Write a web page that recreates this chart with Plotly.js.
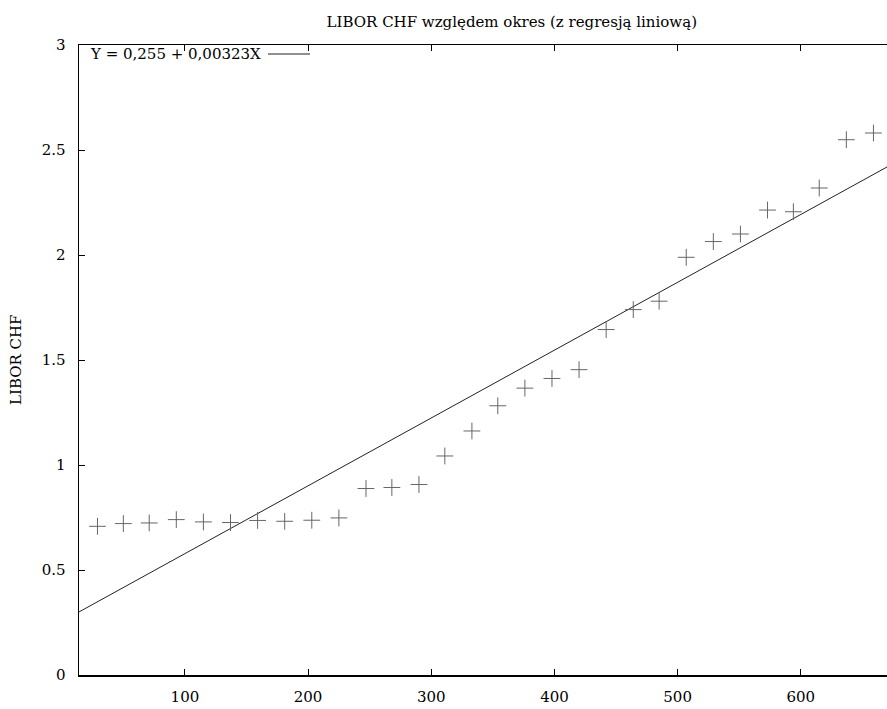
<!DOCTYPE html>
<html>
<head>
<meta charset="utf-8">
<script src="https://cdn.plot.ly/plotly-3.0.1.min.js"></script>
<style>
  html, body { margin: 0; padding: 0; background: #fff; }
  #chart { width: 887px; height: 709px; }
</style>
</head>
<body>
<div id="chart"></div>
<script>
// ---- data ----
const okres = [29, 50, 71, 93, 115, 137, 159, 181, 203, 225,
               247, 268, 290, 311, 333, 354, 376, 398, 420, 442,
               464, 485, 507, 529, 551, 573, 594, 615, 637, 659];
const liborCHF = [0.708, 0.721, 0.724, 0.740, 0.729, 0.726, 0.736, 0.732, 0.737, 0.748,
                  0.888, 0.893, 0.907, 1.043, 1.162, 1.282, 1.366, 1.412, 1.454, 1.645,
                  1.740, 1.780, 1.989, 2.064, 2.100, 2.214, 2.206, 2.319, 2.549, 2.581];
const intercept = 0.255;
const slope = 0.00323;
const xRange = [14, 670];
const yRange = [0, 3];
const xTicks = [100, 200, 300, 400, 500, 600];
const yTicks = [0, 0.5, 1, 1.5, 2, 2.5, 3];
const yTickText = ['0', '0.5', '1', '1.5', '2', '2.5', '3'];
const titleText = 'LIBOR CHF względem okres (z regresją liniową)';
const yTitleText = 'LIBOR CHF';
const legendText = 'Y = 0,255 + 0,00323X';

// regression line over the full axis range
const regX = xRange.slice();
const regY = regX.map(x => intercept + slope * x);

const FONT = 'DejaVu Serif, Liberation Serif, serif';

const traces = [
  {
    x: regX, y: regY, type: 'scatter', mode: 'lines',
    line: { color: '#222', width: 1 },
    showlegend: false, hoverinfo: 'skip'
  },
  {
    x: okres, y: liborCHF, type: 'scatter', mode: 'markers',
    marker: { symbol: 'cross-thin', size: 12, color: '#666',
              line: { color: '#666', width: 1 } },
    showlegend: false
  }
];

const legendY = 1 - (54 - 45) / 630;

const layout = {
  width: 887, height: 709,
  margin: { l: 79, r: 0, t: 45, b: 34, pad: 0 },
  paper_bgcolor: '#fff', plot_bgcolor: '#fff',
  font: { family: FONT, size: 15, color: '#000' },
  title: {
    text: titleText, font: { family: FONT, size: 15, color: '#000' },
    x: 0.577, xanchor: 'center', y: 0.97, yanchor: 'middle'
  },
  showlegend: false,
  xaxis: {
    range: xRange, tickvals: xTicks, ticktext: xTicks.map(String),
    ticks: 'inside', ticklen: 6, tickwidth: 1, tickcolor: '#000',
    showline: true, linecolor: '#000', linewidth: 1.5, mirror: 'ticks',
    showgrid: false, zeroline: false,
    ticklabelstandoff: 7,
    tickfont: { family: FONT, size: 15, color: '#000' }
  },
  yaxis: {
    range: yRange, tickvals: yTicks, ticktext: yTickText,
    ticks: 'inside', ticklen: 6, tickwidth: 1, tickcolor: '#000',
    showline: true, linecolor: '#000', linewidth: 1.5, mirror: false,
    showgrid: false, zeroline: false,
    ticklabelstandoff: 9,
    tickfont: { family: FONT, size: 15, color: '#000' }
  },
  annotations: [
    { xref: 'paper', yref: 'paper', x: (263 - 79) / 808, y: legendY,
      xanchor: 'right', yanchor: 'middle', showarrow: false,
      text: legendText, font: { family: FONT, size: 15, color: '#000' } },
    { xref: 'paper', yref: 'paper', x: (16 - 79) / 808, y: 0.5,
      xanchor: 'center', yanchor: 'middle', showarrow: false, textangle: -90,
      text: yTitleText, font: { family: FONT, size: 15, color: '#000' } }
  ],
  shapes: [
    { type: 'line', xref: 'paper', yref: 'paper',
      x0: (268 - 79) / 808, x1: (310 - 79) / 808,
      y0: legendY, y1: legendY,
      line: { color: '#222', width: 1 } }
  ]
};

Plotly.newPlot('chart', traces, layout, { displayModeBar: false, staticPlot: true });
</script>
</body>
</html>
